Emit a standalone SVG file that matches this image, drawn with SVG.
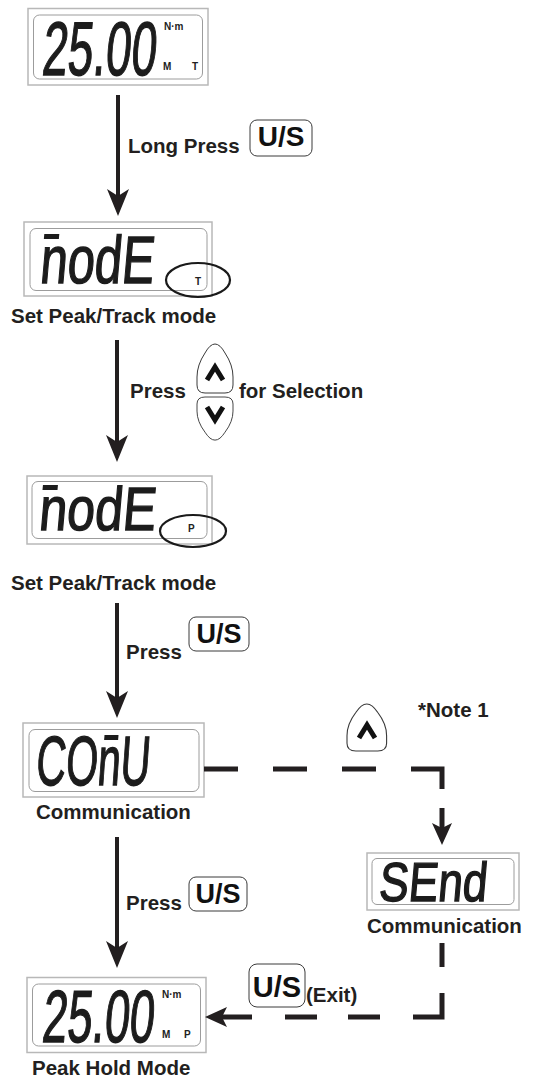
<svg xmlns="http://www.w3.org/2000/svg" width="539" height="1084" viewBox="0 0 539 1084">
<style>
.lcdo{fill:#fff;stroke:#b8b8b8;stroke-width:1.5}
.lcdi{fill:#fff;stroke:#9c9c9c;stroke-width:1}
.seg{font-family:"Liberation Sans",Arial,sans-serif;fill:#1c1c1c;stroke:#1c1c1c;stroke-width:1.4}
.tiny{font-family:"Liberation Sans",Arial,sans-serif;font-weight:bold;font-size:10px;fill:#222}
.lbl{font-family:"Liberation Sans",Arial,sans-serif;font-weight:bold;font-size:20.5px;fill:#231f20}
.key{fill:#fff;stroke:#3a3a3a;stroke-width:1}
.keytxt{font-family:"Liberation Sans",Arial,sans-serif;font-weight:bold;fill:#111;text-anchor:middle}
.ring{fill:none;stroke:#1a1a1a;stroke-width:2.2}
.conn{stroke:#231f20;stroke-width:4;fill:none}
.dash{stroke:#231f20;stroke-width:5;fill:none;stroke-linejoin:miter}
.chev{fill:none;stroke:#111;stroke-width:5;stroke-linejoin:miter}
</style>
<defs>
<marker id="ah" viewBox="0 0 27 22" refX="17" refY="11" markerWidth="27" markerHeight="22" markerUnits="userSpaceOnUse" orient="auto"><path d="M0,0 L27,11 L0,22 L7,11 Z" fill="#231f20"/></marker>
<marker id="ah2" viewBox="0 0 22 20" refX="12" refY="10" markerWidth="22" markerHeight="20" markerUnits="userSpaceOnUse" orient="auto"><path d="M0,0 L22,10 L0,20 L5,10 Z" fill="#231f20"/></marker>
<path id="upkey" d="M8,50 Q0,50 0,42 L0,34 Q0,22 8,10 Q13,1 18,1 Q23,1 28,10 Q36,22 36,34 L36,42 Q36,50 28,50 Z"/>
</defs>

<g id="lcd-track">
<rect class="lcdo" x="28" y="8.5" width="180" height="76.5"/>
<rect class="lcdi" x="33.5" y="15" width="169" height="64" rx="6"/>
<g transform="translate(41,75) skewX(-5)"><text class="seg" x="0" y="0" font-size="76" textLength="114" lengthAdjust="spacingAndGlyphs">25.00</text></g>
<text class="tiny" x="164" y="30">N·m</text>
<text class="tiny" x="163" y="70">M</text>
<text class="tiny" x="192" y="70">T</text>
</g>

<g id="lcd-mode-t">
<rect class="lcdo" x="24" y="222" width="188" height="74"/>
<rect class="lcdi" x="30" y="228.5" width="177" height="62" rx="6"/>
<g transform="translate(39,283) skewX(-5)"><text class="seg" x="0" y="0" font-size="67" textLength="114" lengthAdjust="spacingAndGlyphs">nodE</text><rect x="1" y="-49" width="15" height="5" fill="#1c1c1c"/></g>
<text class="tiny" x="195" y="285" font-size="9">T</text>
<ellipse class="ring" cx="198" cy="280" rx="32" ry="17"/>
</g>
<text class="lbl" x="11" y="323">Set Peak/Track mode</text>

<g id="lcd-mode-p">
<rect class="lcdo" x="27" y="476" width="185" height="68"/>
<rect class="lcdi" x="32" y="481.5" width="175" height="57" rx="6"/>
<g transform="translate(38,530) skewX(-5)"><text class="seg" x="0" y="0" font-size="61" textLength="117" lengthAdjust="spacingAndGlyphs">nodE</text><rect x="1" y="-45" width="15" height="5" fill="#1c1c1c"/></g>
<text class="tiny" x="188" y="532" font-size="9">P</text>
<ellipse class="ring" cx="193" cy="531" rx="33" ry="16"/>
</g>
<text class="lbl" x="11" y="590">Set Peak/Track mode</text>

<g id="lcd-comu">
<rect class="lcdo" x="23" y="723" width="181" height="74"/>
<rect class="lcdi" x="29" y="729.5" width="170" height="62" rx="6"/>
<g transform="translate(35,785) skewX(-4)"><text class="seg" x="0" y="0" font-size="70" textLength="114" lengthAdjust="spacingAndGlyphs">COnU</text><rect x="66" y="-50" width="14" height="5" fill="#1c1c1c"/></g>
</g>
<text class="lbl" x="36" y="819">Communication</text>

<g id="lcd-send">
<rect class="lcdo" x="367" y="853" width="152" height="57"/>
<rect class="lcdi" x="372" y="858.5" width="142" height="46" rx="5"/>
<g transform="translate(378,901) skewX(-5)"><text class="seg" x="0" y="0" font-size="55" textLength="108" lengthAdjust="spacingAndGlyphs">SEnd</text></g>
</g>
<text class="lbl" x="367" y="933">Communication</text>

<g id="lcd-peak">
<rect class="lcdo" x="27" y="977.5" width="179" height="75"/>
<rect class="lcdi" x="32.5" y="984" width="168" height="62" rx="6"/>
<g transform="translate(41,1042) skewX(-5)"><text class="seg" x="0" y="0" font-size="74" textLength="112" lengthAdjust="spacingAndGlyphs">25.00</text></g>
<text class="tiny" x="162" y="998">N·m</text>
<text class="tiny" x="162" y="1038">M</text>
<text class="tiny" x="184" y="1038">P</text>
</g>
<text class="lbl" x="32" y="1075">Peak Hold Mode</text>

<g id="key-us-1">
<rect class="key" x="250" y="120" width="62" height="36" rx="7"/>
<text class="keytxt" x="281" y="146" font-size="28">U/S</text>
</g>
<text class="lbl" x="128" y="153">Long Press</text>

<g id="key-up-1">
<use href="#upkey" class="key" transform="translate(197,343)"/>
<polyline class="chev" points="207,380 215,367 223,380"/>
</g>
<g id="key-down-1">
<use href="#upkey" class="key" transform="translate(197,441) scale(1,-0.88)"/>
<polyline class="chev" points="207,407 215,420 223,407"/>
</g>
<text class="lbl" x="130" y="398">Press</text>
<text class="lbl" x="239" y="398">for Selection</text>

<g id="key-us-2">
<rect class="key" x="189" y="617" width="60" height="34" rx="7"/>
<text class="keytxt" x="219" y="643" font-size="27">U/S</text>
</g>
<text class="lbl" x="126" y="659">Press</text>

<g id="key-us-3">
<rect class="key" x="189" y="877" width="58" height="34" rx="7"/>
<text class="keytxt" x="218" y="903" font-size="27">U/S</text>
</g>
<text class="lbl" x="126" y="910">Press</text>

<g id="key-up-note">
<use href="#upkey" class="key" transform="translate(347,703) scale(1.1,0.96)"/>
<polyline class="chev" points="359,738 367,725 375,738"/>
</g>
<text class="lbl" x="418" y="717">*Note 1</text>

<g id="key-us-exit">
<rect class="key" x="249" y="964" width="56" height="43" rx="8"/>
<text class="keytxt" x="277" y="997" font-size="29">U/S</text>
</g>
<text class="lbl" x="306" y="1002" font-size="18">(Exit)</text>

<g id="connectors">
<line class="conn" x1="118" y1="95" x2="118" y2="206" marker-end="url(#ah)"/>
<line class="conn" x1="117" y1="340" x2="117" y2="452" marker-end="url(#ah)"/>
<line class="conn" x1="117" y1="603" x2="117" y2="708" marker-end="url(#ah)"/>
<line class="conn" x1="117" y1="837" x2="117" y2="958" marker-end="url(#ah)"/>
<line class="dash" x1="204" y1="769" x2="238" y2="769"/>
<line class="dash" x1="273" y1="769" x2="307" y2="769"/>
<line class="dash" x1="342" y1="769" x2="376" y2="769"/>
<polyline class="dash" points="411,769 442,769 442,789"/>
<line class="dash" x1="442" y1="808" x2="442" y2="835" marker-end="url(#ah2)"/>
<line class="dash" x1="442" y1="943" x2="442" y2="967"/>
<polyline class="dash" points="442,993 442,1017 413,1017"/>
<line class="dash" x1="380" y1="1017" x2="348" y2="1017"/>
<line class="dash" x1="317" y1="1017" x2="285" y2="1017"/>
<line class="dash" x1="252" y1="1017" x2="215" y2="1017" marker-end="url(#ah2)"/>
</g>
</svg>
